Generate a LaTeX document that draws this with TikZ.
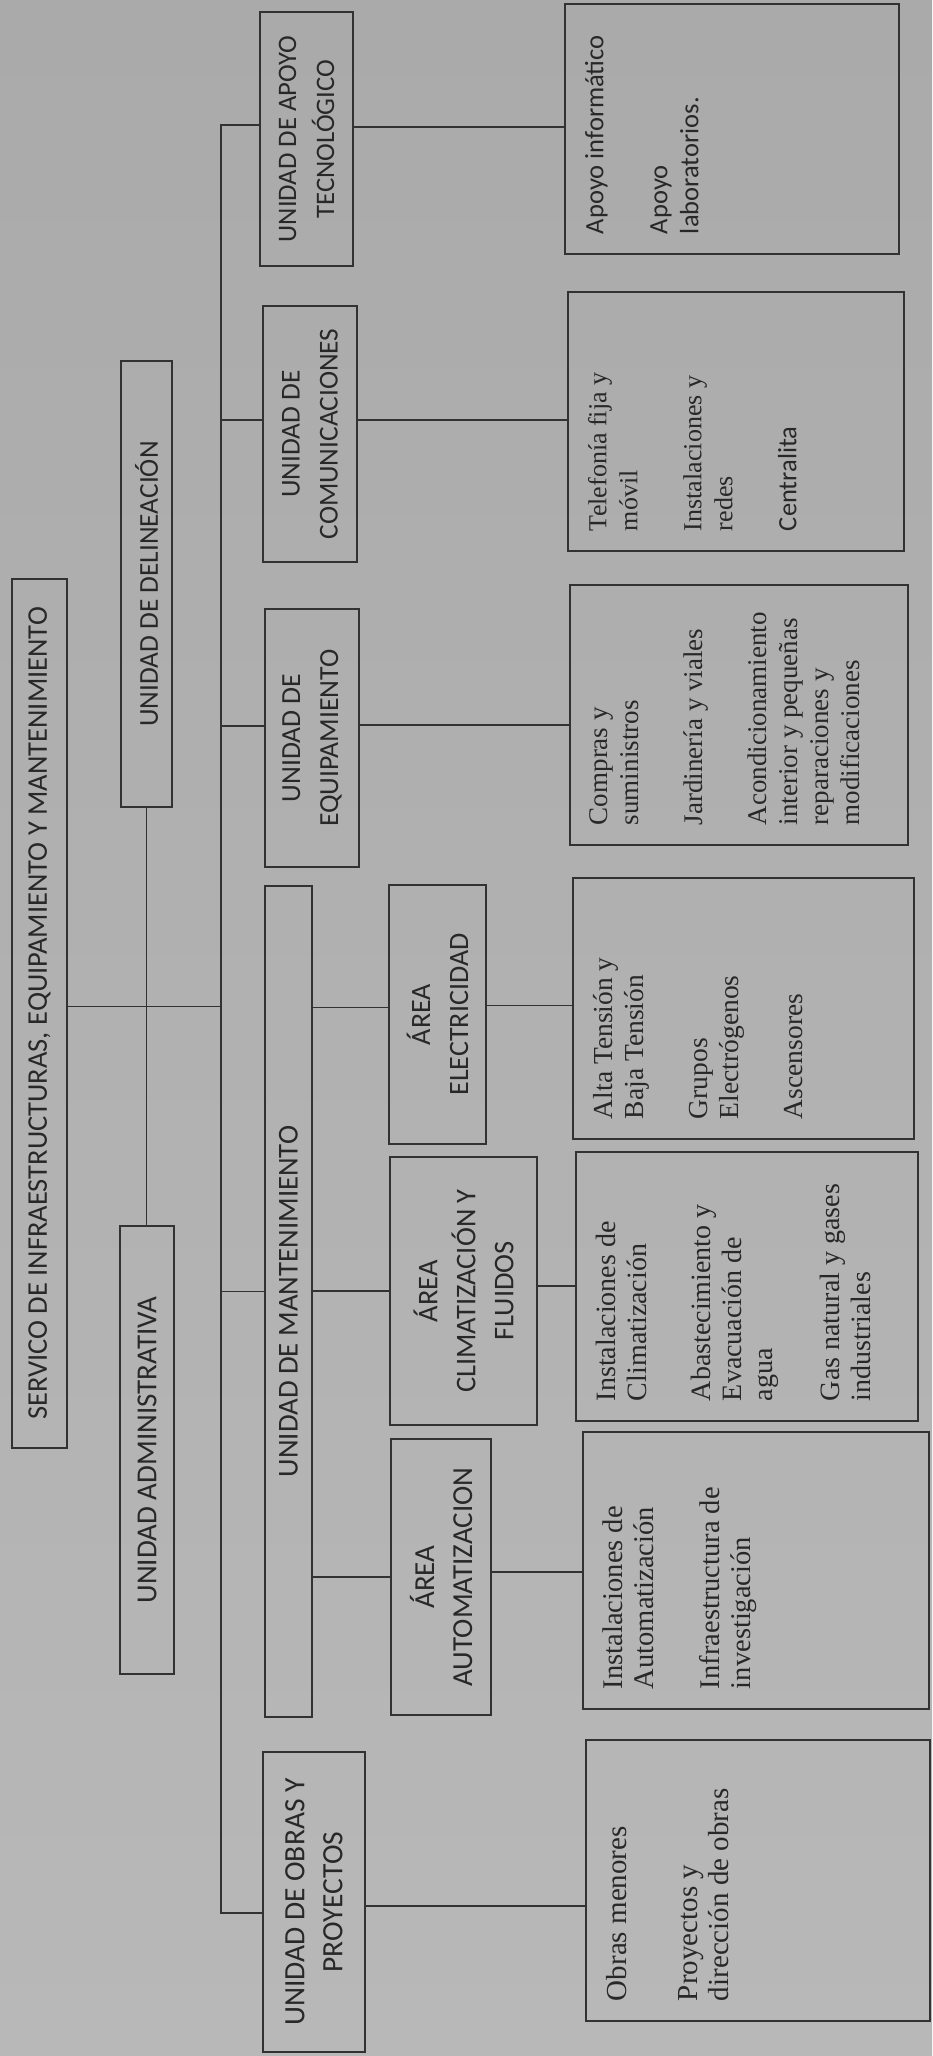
\documentclass[tikz,border=0pt]{standalone}
\usepackage{fontspec}
\setmainfont{Liberation Serif}
\newfontfamily\calib{Carlito}
\definecolor{bgtop}{RGB}{170,170,170}
\definecolor{bgbot}{RGB}{184,184,184}
\definecolor{inkc}{RGB}{40,40,40}
\definecolor{linec}{RGB}{50,50,50}
\newcommand\untfont[2]{\calib\fontsize{#1}{#2}\selectfont}
\newcommand\itmfont[1]{\rmfamily\fontsize{#1}{31}\selectfont}
\newcommand\itmsans[1]{\calib\fontsize{#1}{31}\selectfont}
\newcommand\orgtext[3]{\begin{minipage}[c][#2][t]{#1}\raggedright #3\end{minipage}}
\begin{document}
\begin{tikzpicture}[x=1pt,y=1pt,
  orgbox/.style={draw=linec, line width=1.3pt, rotate=90, inner sep=0pt, outer sep=0pt, text=inkc},
  unit/.style={orgbox, align=center, font=\untfont{#1}{38}},
  unit/.default=28,
  sub/.style={orgbox, inner xsep=20pt, inner ysep=20pt},
  conn/.style={draw=linec, line width=1.3pt}]
\shade[top color=bgtop, bottom color=bgbot] (0,0) rectangle (932,-2056);
\useasboundingbox (0,0) rectangle (932,-2056);

% level 0
\node[unit=28.5, minimum width=869pt, minimum height=55pt] (title) at (39.5,-1013.5)
  {SERVICO DE INFRAESTRUCTURAS, EQUIPAMIENTO Y MANTENIMIENTO};
% staff units
\node[unit=27.3, minimum width=446pt, minimum height=51pt] (delin) at (146.5,-584) {UNIDAD DE DELINEACIÓN};
\node[unit=29, minimum width=448pt, minimum height=54pt] (adm) at (147,-1450) {UNIDAD ADMINISTRATIVA};
% units
\node[unit=26.7, minimum width=254pt, minimum height=93pt] (apoyotec) at (306.5,-139) {UNIDAD DE APOYO\\TECNOLÓGICO};
\node[unit=27.3, minimum width=256pt, minimum height=94pt] (comunic) at (310,-434) {UNIDAD DE\\COMUNICACIONES};
\node[unit=27.6, minimum width=258pt, minimum height=94pt] (equip) at (312,-738) {UNIDAD DE\\EQUIPAMIENTO};
\node[unit=28.8, minimum width=831pt, minimum height=47pt] (mant) at (288.5,-1301.5) {UNIDAD DE MANTENIMIENTO};
\node[unit=29.5, minimum width=300pt, minimum height=102pt] (obras) at (314,-1902) {UNIDAD DE OBRAS Y\\PROYECTOS};
% areas
\node[unit=28, minimum width=259pt, minimum height=97pt] (elec) at (437.5,-1014.5) {ÁREA\\ELECTRICIDAD};
\node[unit=28.5, minimum width=268pt, minimum height=147pt] (clim) at (463.5,-1291) {ÁREA\\CLIMATIZACIÓN Y\\FLUIDOS};
\node[unit=29, minimum width=276pt, minimum height=100pt] (auto) at (441,-1577) {ÁREA\\AUTOMATIZACION};

% task boxes
\node[sub] (apoyosub) at (732,-129) {\orgtext{210pt}{294pt}{\itmsans{26.5}Apoyo informático\\[33pt]Apoyo\\laboratorios.}};
\node[sub] (comsub) at (736,-421.5) {\orgtext{219pt}{296pt}{\itmfont{26}Telefonía fija y\\móvil\\[33pt]Instalaciones y\\redes\\[33pt]{\itmsans{26.5}Centralita}}};
\node[sub] (equipsub) at (739,-715) {\orgtext{220pt}{298pt}{\itmfont{27}Compras y\\suministros\\[33pt]Jardinería y viales\\[33pt]Acondicionamiento\\interior y pequeñas\\reparaciones y\\modificaciones}};
\node[sub] (elecsub) at (743.5,-1008.5) {\orgtext{221pt}{301pt}{\itmfont{27.5}Alta Tensión y\\Baja Tensión\\[33pt]Grupos\\Electrógenos\\[33pt]Ascensores}};
\node[sub] (climsub) at (747,-1286.5) {\orgtext{229pt}{302pt}{\itmfont{28}Instalaciones de\\Climatización\\[33pt]Abastecimiento y\\Evacuación de\\agua\\[36pt]Gas natural y gases\\industriales}};
\node[sub] (autosub) at (756,-1570.5) {\orgtext{237pt}{306pt}{\itmfont{28.5}Instalaciones de\\Automatización\\[35pt]Infraestructura de\\investigación}};
\node[sub] (obrassub) at (758,-1880.5) {\orgtext{241pt}{304pt}{\itmfont{29}Obras menores\\[40pt]Proyectos y\\dirección de obras}};

% bus
\coordinate (bus) at (221,0);
\draw[conn] ([yshift=14pt]apoyotec.north) -- ([yshift=14pt]apoyotec.north -| bus) |- ([yshift=-11pt]obras.north);
\draw[conn] ([yshift=14pt]comunic.north -| bus) -- ([yshift=14pt]comunic.north);
\draw[conn] ([yshift=12pt]equip.north -| bus) -- ([yshift=12pt]equip.north);
\draw[conn] ([yshift=10pt]mant.north -| bus) -- ([yshift=10pt]mant.north);
\draw[conn] ([yshift=7pt]title.south) -- ([yshift=7pt]title.south -| bus);
\draw[conn] (delin.west) -- (delin.west |- adm.east);

% unit to tasks
\draw[conn] ([yshift=12pt]apoyotec.south) -- ([yshift=12pt]apoyotec.south -| apoyosub.north);
\draw[conn] ([yshift=14pt]comunic.south) -- ([yshift=14pt]comunic.south -| comsub.north);
\draw[conn] ([yshift=13pt]equip.south) -- ([yshift=13pt]equip.south -| equipsub.north);
\draw[conn] ([yshift=-4pt]obras.south) -- ([yshift=-4pt]obras.south -| obrassub.north);

% maintenance to areas
\draw[conn] ([yshift=7pt]elec.north -| mant.south) -- ([yshift=7pt]elec.north);
\draw[conn] (clim.north -| mant.south) -- (clim.north);
\draw[conn] (auto.north -| mant.south) -- (auto.north);

% areas to tasks
\draw[conn] ([yshift=9pt]elec.south) -- ([yshift=9pt]elec.south -| elecsub.north);
\draw[conn] ([yshift=5pt]clim.south) -- ([yshift=5pt]clim.south -| climsub.north);
\draw[conn] ([yshift=5pt]auto.south) -- ([yshift=5pt]auto.south -| autosub.north);
\end{tikzpicture}
\end{document}
